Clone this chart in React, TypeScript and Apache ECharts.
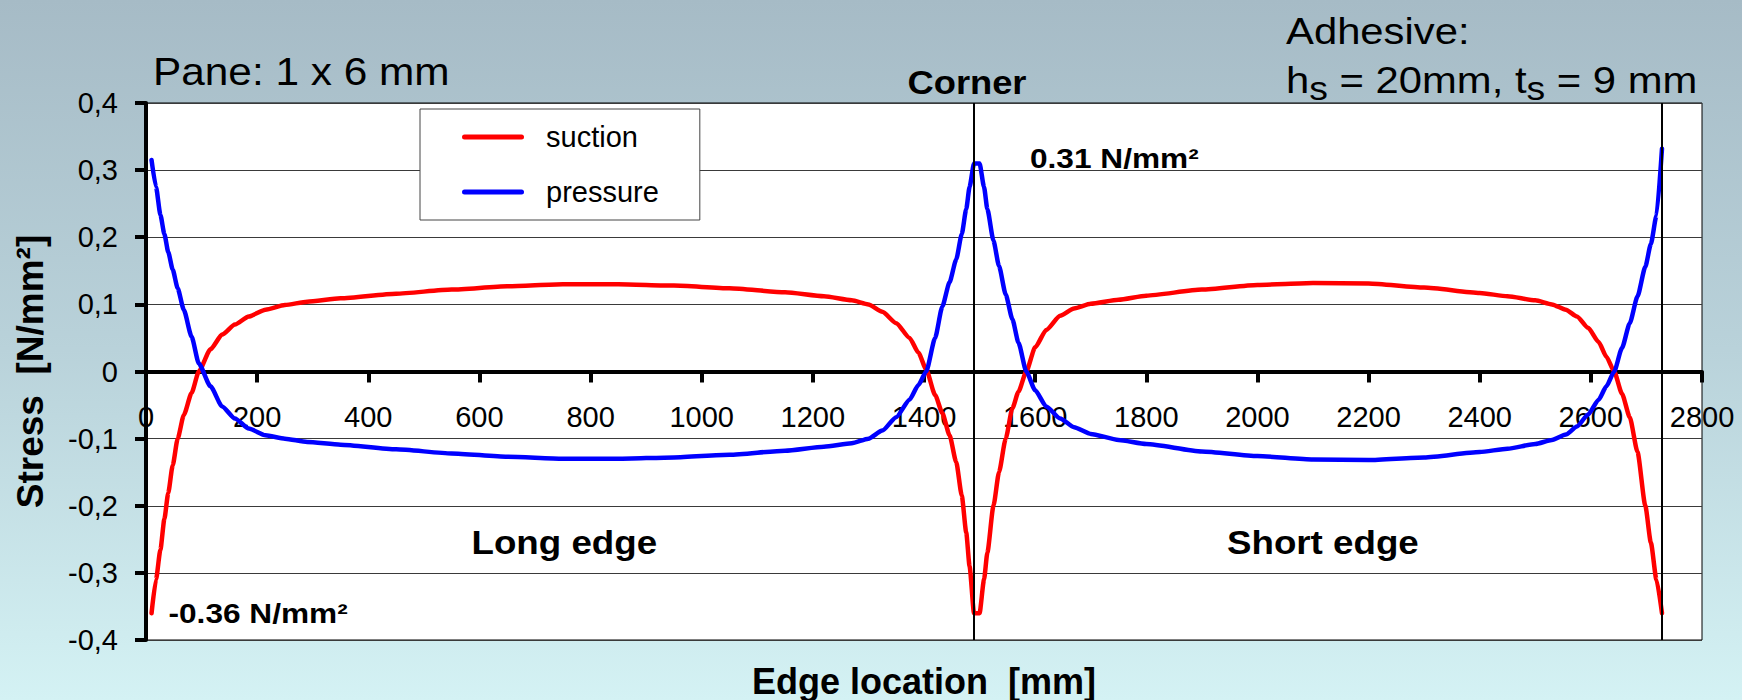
import React, { useEffect, useRef } from "react";
import * as echarts from "echarts";

// Position along the adhesive joint [mm]: long edge up to the corner, then the short edge.
const edgeLocation = [
  10, 18, 26, 33, 40, 48, 57, 68, 82, 95, 116, 137, 160, 185, 215, 250, 290, 350, 450, 550,
  650, 750, 850, 950, 1050, 1150, 1220, 1270, 1300, 1325, 1350, 1374, 1390, 1404, 1420, 1433,
  1446, 1458, 1468, 1476, 1482, 1490,
  1500, 1508, 1514, 1525, 1535, 1547, 1559, 1570, 1584, 1600, 1620, 1645, 1670, 1700, 1750,
  1800, 1900, 2000, 2100, 2200, 2300, 2400, 2450, 2500, 2530, 2555, 2575, 2595, 2614, 2628,
  2642, 2656, 2670, 2684, 2698, 2708, 2718, 2728,
];

// Stress under wind suction [N/mm²]
const suction = [
  -0.36, -0.31, -0.265, -0.22, -0.181, -0.14, -0.1, -0.065, -0.032, 0.0, 0.033, 0.055, 0.07,
  0.082, 0.092, 0.099, 0.104, 0.109, 0.116, 0.122, 0.127, 0.13, 0.13, 0.128, 0.124, 0.118,
  0.112, 0.106, 0.1, 0.089, 0.072, 0.05, 0.028, 0.003, -0.035, -0.062, -0.095, -0.135, -0.185,
  -0.24, -0.29, -0.36,
  -0.36, -0.31, -0.27, -0.2, -0.15, -0.1, -0.055, -0.03, 0.0, 0.036, 0.062, 0.083, 0.094, 0.101,
  0.107, 0.113, 0.122, 0.129, 0.132, 0.131, 0.125, 0.117, 0.112, 0.106, 0.1, 0.092, 0.082,
  0.065, 0.044, 0.022, 0.0, -0.033, -0.068, -0.12, -0.2, -0.255, -0.31, -0.36,
];

// Stress under wind pressure [N/mm²]
const pressure = [
  0.315, 0.275, 0.233, 0.205, 0.178, 0.152, 0.124, 0.092, 0.052, 0.012, -0.022, -0.052, -0.07,
  -0.085, -0.095, -0.1, -0.105, -0.109, -0.116, -0.122, -0.127, -0.13, -0.13, -0.128, -0.124,
  -0.118, -0.112, -0.107, -0.1, -0.088, -0.068, -0.042, -0.02, 0.0, 0.05, 0.097, 0.133,
  0.167, 0.205, 0.242, 0.275, 0.31,
  0.31, 0.275, 0.242, 0.195, 0.157, 0.115, 0.078, 0.043, 0.0, -0.028, -0.052, -0.07, -0.083,
  -0.093, -0.102, -0.108, -0.119, -0.126, -0.131, -0.132, -0.128, -0.12, -0.115, -0.108,
  -0.102, -0.094, -0.082, -0.064, -0.042, -0.022, 0.0, 0.035, 0.072, 0.112, 0.156, 0.19, 0.232,
  0.332,
];

const seriesNames = ["suction", "pressure"];
const seriesColors = ["#ff0000", "#0000ff"];
const cornerLocations = [1490, 2728];
const xRange = [0, 2800];
const xStep = 200;
const yRange = [-0.4, 0.4];
const yStep = 0.1;

const FONT = '"Liberation Sans", Arial, Helvetica, sans-serif';

// legend swatch: a short line with rounded ends
const LEGEND_LINE = "path://M2.5,0 L59.5,0 A2.5,2.5 0 0 1 59.5,5 L2.5,5 A2.5,2.5 0 0 1 2.5,0 Z";

// plot box
const GRID = { left: 146, right: 40, top: 103, bottom: 60 };
const CHART_H = 700;

function decimalComma(v: number): string {
  const r = Math.round(v * 10) / 10;
  if (r === 0) return "0";
  return r.toFixed(1).replace(".", ",");
}

function measure(text: string, font: string): number {
  const ctx = document.createElement("canvas").getContext("2d");
  if (!ctx) return text.length * 20;
  ctx.font = font;
  return ctx.measureText(text).width;
}

// y of a text's middle line for a given baseline and font size
const mid = (baseline: number, size: number) => baseline - 0.31 * size;

function buildGraphic() {
  const els: any[] = [];
  const plain = (text: string, x: number, baseline: number, size: number, opts: any = {}) => ({
    type: "text",
    x,
    y: mid(baseline, size),
    scaleX: opts.scaleX ?? 1,
    silent: true,
    style: {
      text,
      fill: "#000",
      fontFamily: FONT,
      fontSize: size,
      fontWeight: opts.bold ? "bold" : "normal",
      align: opts.align ?? "left",
      verticalAlign: "middle",
    },
  });

  els.push(plain("Pane: 1 x 6 mm", 153, 84, 38.5, { scaleX: 1.1 }));
  els.push(plain("Adhesive:", 1286, 42.5, 37, { scaleX: 1.13 }));

  // h_s = 20mm, t_s = 9 mm with subscripts
  const sx = 1.13;
  const mainSize = 37;
  const subSize = 33;
  const pieces: [string, boolean][] = [
    ["h", false],
    ["s", true],
    [" = 20mm, t", false],
    ["s", true],
    [" = 9 mm", false],
  ];
  let cx = 1286;
  for (const [t, sub] of pieces) {
    const size = sub ? subSize : mainSize;
    els.push(plain(t, cx, sub ? 99 : 91, size, { scaleX: sx }));
    cx += measure(t, `${size}px ${FONT}`) * sx;
  }

  const cornerIdx = edgeLocation.indexOf(cornerLocations[0]);
  const peakText = `${pressure[cornerIdx].toFixed(2)} N/mm²`;
  const troughText = `${suction[0].toFixed(2)} N/mm²`;

  els.push(plain("Corner", 967, 93.3, 33, { bold: true, align: "center", scaleX: 1.1 }));
  els.push(plain(peakText, 1030, 166.5, 28, { bold: true, scaleX: 1.13 }));
  els.push(plain(troughText, 168.5, 621.7, 28, { bold: true, scaleX: 1.13 }));
  els.push(plain("Long edge", 471.5, 553, 34, { bold: true, scaleX: 1.08 }));
  els.push(plain("Short edge", 1227, 553, 34, { bold: true, scaleX: 1.08 }));
  return els;
}

export default function App() {
  const ref = useRef<HTMLDivElement>(null);

  useEffect(() => {
    if (!ref.current) return;
    const chart = echarts.init(ref.current, undefined, { renderer: "svg" });

    const lineSeries = seriesNames.map((name, k) => {
      const values = k === 0 ? suction : pressure;
      return {
        name,
        type: "line",
        data: edgeLocation.map((x, i) => [x, values[i]]),
        symbol: "none",
        showSymbol: false,
        smooth: 0.2,
        smoothMonotone: "x",
        z: 3 + k,
        color: seriesColors[k],
        lineStyle: { color: seriesColors[k], width: 4.5, cap: "round", join: "round" },
        itemStyle: { color: seriesColors[k] },
      };
    });

    // The value axis crosses at stress 0; its labels sit just below that line.
    const plotBottom = CHART_H - GRID.bottom;
    const plotHeight = CHART_H - GRID.top - GRID.bottom;
    const zeroY = GRID.top + (plotHeight * yRange[1]) / (yRange[1] - yRange[0]);
    const labelTopBelowZero = 31;
    const xLabelMargin = zeroY + labelTopBelowZero - plotBottom;

    chart.setOption({
      animation: false,
      backgroundColor: "transparent",
      textStyle: { fontFamily: FONT },
      grid: {
        ...GRID,
        containLabel: false,
        outerBoundsMode: "none",
        show: true,
        backgroundColor: "#ffffff",
        borderColor: "#000",
        borderWidth: 1,
      },
      legend: {
        data: seriesNames.map((name) => ({ name, icon: LEGEND_LINE })),
        orient: "vertical",
        left: 420,
        top: 109,
        padding: [13, 41, 13, 42],
        itemWidth: 62,
        itemHeight: 30,
        itemGap: 25,
        symbolKeepAspect: true,
        backgroundColor: "#ffffff",
        borderColor: "#444",
        borderWidth: 1,
        selectedMode: false,
        textStyle: {
          fontSize: 29,
          color: "#000",
          fontFamily: FONT,
          lineHeight: 30,
          padding: [0, 0, 0, 17],
        },
      },
      xAxis: {
        type: "value",
        min: xRange[0],
        max: xRange[1],
        interval: xStep,
        axisLine: { onZero: true, lineStyle: { color: "#000", width: 4 } },
        axisTick: { show: true, length: 11, lineStyle: { color: "#000", width: 4 } },
        axisLabel: {
          color: "#000",
          fontSize: 29,
          fontFamily: FONT,
          margin: xLabelMargin,
          hideOverlap: false,
          formatter: (v: number) => String(v),
        },
        splitLine: { show: false },
        name: "Edge location  [mm]",
        nameLocation: "middle",
        nameGap: 23,
        nameMoveOverlap: false,
        nameTextStyle: { fontSize: 36, fontWeight: "bold", color: "#000", fontFamily: FONT },
      },
      yAxis: {
        type: "value",
        min: yRange[0],
        max: yRange[1],
        interval: yStep,
        axisLine: { show: true, onZero: false, lineStyle: { color: "#000", width: 4 } },
        axisTick: { show: true, length: 11, lineStyle: { color: "#000", width: 4 } },
        axisLabel: {
          color: "#000",
          fontSize: 29,
          fontFamily: FONT,
          margin: 28,
          formatter: (v: number) => decimalComma(v),
        },
        splitLine: { show: true, lineStyle: { color: "#3a3a3a", width: 1 } },
        name: "Stress  [N/mm²]",
        nameLocation: "middle",
        nameRotate: 90,
        nameGap: 97,
        nameTextStyle: { fontSize: 37, fontWeight: "bold", color: "#000", fontFamily: FONT },
      },
      series: [
        {
          name: "corners",
          type: "line",
          data: [],
          z: 1,
          markLine: {
            silent: true,
            symbol: ["none", "none"],
            label: { show: false },
            lineStyle: { color: "#000", width: 2, type: "solid" },
            data: cornerLocations.map((x) => ({ xAxis: x })),
          },
        },
        ...lineSeries,
      ],
      graphic: buildGraphic(),
    });

    return () => chart.dispose();
  }, []);

  return (
    <div
      style={{
        position: "absolute",
        left: 0,
        top: 0,
        width: 1742,
        height: CHART_H,
        background: "linear-gradient(to bottom, #a6bbc6 0%, #b9d2da 50%, #d4f2f4 100%)",
      }}
    >
      <div ref={ref} style={{ width: 1742, height: CHART_H }} />
    </div>
  );
}
